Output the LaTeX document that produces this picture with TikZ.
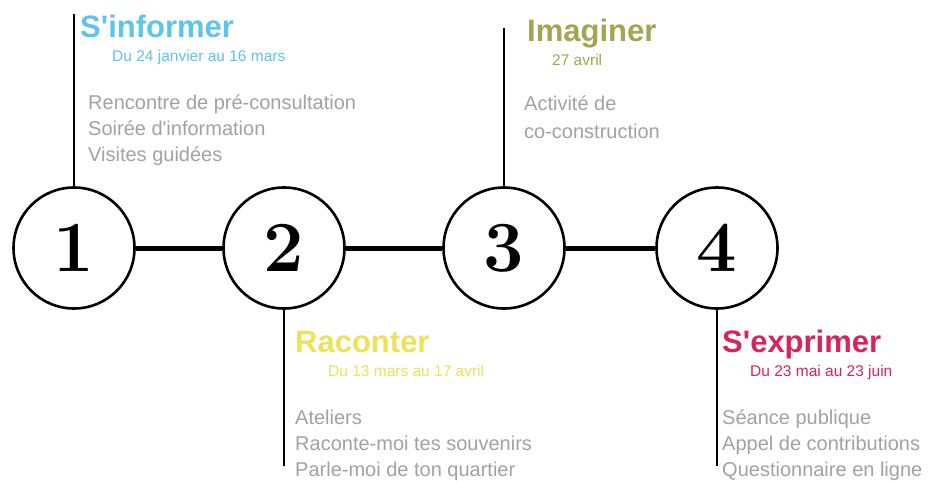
\documentclass[tikz,border=0pt]{standalone}
\usepackage{fontspec}
\setmainfont{Liberation Sans}
\newfontfamily\digitfont{Latin Modern Roman}
\definecolor{cinfo}{HTML}{5DC4EA}
\definecolor{cimag}{HTML}{A3A552}
\definecolor{craco}{HTML}{EEE25A}
\definecolor{cexpr}{HTML}{D8245C}
\definecolor{clist}{HTML}{A2A2A2}
\begin{document}
\begin{tikzpicture}[x=1pt,y=-1pt,
  stepcircle/.style={circle,draw=black,line width=2.6pt,fill=white,minimum size=121pt,inner sep=0pt,
    font=\digitfont\bfseries\fontsize{72}{72}\selectfont},
  link/.style={line width=5pt},
  stem/.style={line width=1.6pt},
  title/.style={anchor=base west,inner sep=0pt,font=\bfseries\fontsize{31}{31}\selectfont},
  datet/.style={anchor=base west,inner sep=0pt,font=\fontsize{15.5}{15.5}\selectfont},
  item/.style={anchor=base west,inner sep=0pt,text=clist,font=\fontsize{20}{20}\selectfont}]
\useasboundingbox[fill=white] (0,0) rectangle (931,482);
\node[stepcircle] (c1) at (74,248) {\raisebox{1pt}{1}};
\node[stepcircle] (c2) at (284,248) {\raisebox{1pt}{2}};
\node[stepcircle] (c3) at (504,248) {\raisebox{1pt}{3}};
\node[stepcircle] (c4) at (717,248) {\raisebox{1pt}{4}};
\draw[link] (c1) -- (c2);
\draw[link] (c2) -- (c3);
\draw[link] (c3) -- (c4);
\coordinate (t1) at (74,14);
\coordinate (t3) at (504,28);
\coordinate (b2) at (284,466);
\coordinate (b4) at (717,466);
\draw[stem] (c1.north) -- (t1);
\draw[stem] (c3.north) -- (t3);
\draw[stem] (c2.south) -- (b2);
\draw[stem] (c4.south) -- (b4);
% S'informer
\node[title,text=cinfo] (h1) at (80,37) {S\textquotesingle informer};
\node[datet,text=cinfo] (d1) at (112,61) {Du 24 janvier au 16 mars};
\node[item] (i11) at (88,109) {Rencontre de pré-consultation};
\node[item] (i12) at (88,135) {Soirée d\textquotesingle information};
\node[item] (i13) at (88,161) {Visites guidées};
% Imaginer
\node[title,text=cimag] (h3) at (527,41) {Imaginer};
\node[datet,text=cimag] (d3) at (552,65) {27 avril};
\node[item] (i31) at (524,110) {Activité de};
\node[item] (i32) at (524,138) {co-construction};
% Raconter
\node[title,text=craco] (h2) at (295,352) {Raconter};
\node[datet,text=craco] (d2) at (328,376) {Du 13 mars au 17 avril};
\node[item] (i21) at (295,424) {Ateliers};
\node[item] (i22) at (295,450) {Raconte-moi tes souvenirs};
\node[item] (i23) at (295,476) {Parle-moi de ton quartier};
% S'exprimer
\node[title,text=cexpr] (h4) at (722,352) {S\textquotesingle exprimer};
\node[datet,text=cexpr] (d4) at (750,376) {Du 23 mai au 23 juin};
\node[item] (i41) at (722,424) {Séance publique};
\node[item] (i42) at (722,450) {Appel de contributions};
\node[item] (i43) at (722,476) {Questionnaire en ligne};
\end{tikzpicture}
\end{document}
